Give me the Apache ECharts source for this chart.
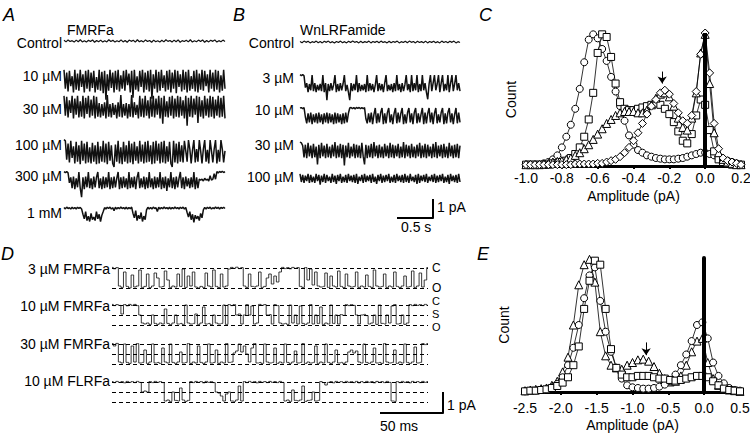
<!DOCTYPE html>
<html><head><meta charset="utf-8">
<script src="https://cdn.jsdelivr.net/npm/echarts/dist/echarts.min.js"></script>
<style>html,body{margin:0;padding:0;background:#fff}#main{width:750px;height:435px}</style>
</head><body><div id="main"></div>
<script>
// ---------------- DATA ----------------
// Panel C amplitude histograms (bins in pA, normalised counts)
const ampC = [-1.0,-0.975,-0.95,-0.925,-0.9,-0.875,-0.85,-0.825,-0.8,-0.775,-0.75,-0.725,-0.7,-0.675,-0.65,-0.625,-0.6,-0.575,-0.55,-0.525,-0.5,-0.475,-0.45,-0.425,-0.4,-0.375,-0.35,-0.325,-0.3,-0.275,-0.25,-0.225,-0.2,-0.175,-0.15,-0.125,-0.1,-0.075,-0.05,-0.025,0.0,0.025,0.05,0.075,0.1,0.125,0.15,0.175,0.2];
const cCircle = [0.01,0.01,0.01,0.01,0.02,0.03,0.05,0.08,0.14,0.22,0.31,0.43,0.58,0.78,0.95,0.99,0.96,0.88,0.79,0.67,0.56,0.45,0.34,0.23,0.16,0.12,0.10,0.08,0.07,0.06,0.055,0.05,0.05,0.05,0.055,0.06,0.07,0.08,0.09,0.10,0.10,0.09,0.08,0.06,0.05,0.04,0.03,0.02,0.01];
const cSquare = [0.01,0.01,0.01,0.01,0.01,0.01,0.02,0.02,0.03,0.04,0.06,0.09,0.14,0.22,0.35,0.55,0.85,0.99,0.97,0.82,0.62,0.48,0.43,0.42,0.42,0.43,0.44,0.45,0.46,0.47,0.46,0.43,0.39,0.33,0.26,0.19,0.17,0.24,0.38,0.50,0.46,0.27,0.11,0.05,0.03,0.02,0.01,0.01,0.01];
const cTriangle = [0.01,0.01,0.01,0.01,0.015,0.02,0.03,0.035,0.04,0.05,0.06,0.08,0.10,0.13,0.16,0.20,0.24,0.28,0.32,0.35,0.38,0.40,0.41,0.41,0.41,0.40,0.40,0.42,0.46,0.51,0.54,0.55,0.52,0.45,0.36,0.29,0.27,0.36,0.55,0.85,0.99,0.62,0.25,0.10,0.05,0.03,0.02,0.01,0.01];
const cDiamond = [0.01,0.01,0.01,0.01,0.01,0.01,0.01,0.01,0.01,0.01,0.01,0.015,0.015,0.015,0.015,0.015,0.02,0.02,0.03,0.04,0.05,0.07,0.10,0.14,0.19,0.25,0.32,0.39,0.45,0.50,0.55,0.57,0.54,0.47,0.40,0.34,0.32,0.38,0.56,0.84,1.0,0.70,0.32,0.13,0.06,0.04,0.03,0.02,0.01];

// Panel E amplitude histograms
const ampE = [-2.5,-2.425,-2.35,-2.275,-2.2,-2.125,-2.05,-1.975,-1.9,-1.825,-1.75,-1.675,-1.6,-1.525,-1.45,-1.375,-1.3,-1.225,-1.15,-1.075,-1.0,-0.925,-0.85,-0.775,-0.7,-0.625,-0.55,-0.475,-0.4,-0.325,-0.25,-0.175,-0.1,-0.025,0.05,0.125,0.2,0.275,0.35,0.425,0.5];
const eTriangle = [0.01,0.015,0.02,0.025,0.03,0.05,0.08,0.15,0.26,0.50,0.80,0.95,0.99,0.82,0.45,0.27,0.20,0.18,0.17,0.20,0.22,0.24,0.245,0.23,0.19,0.14,0.10,0.075,0.08,0.12,0.20,0.30,0.38,0.40,0.22,0.10,0.05,0.025,0.015,0.01,0.005];
const eCircle = [0.005,0.01,0.01,0.015,0.02,0.035,0.06,0.11,0.20,0.33,0.50,0.70,0.87,0.93,0.68,0.45,0.30,0.18,0.10,0.05,0.035,0.03,0.025,0.025,0.03,0.04,0.055,0.08,0.13,0.20,0.28,0.38,0.50,0.52,0.40,0.22,0.12,0.065,0.03,0.015,0.01];
const eSquare = [0.005,0.01,0.01,0.015,0.02,0.03,0.045,0.07,0.11,0.20,0.34,0.62,0.83,0.98,0.95,0.62,0.32,0.18,0.13,0.11,0.11,0.12,0.12,0.12,0.11,0.10,0.10,0.09,0.085,0.09,0.10,0.11,0.12,0.12,0.11,0.08,0.05,0.025,0.015,0.01,0.005];

// Panel A current traces (pA, closed = 0)
const labelsA = ['Control','10 µM','30 µM','100 µM','300 µM','1 mM'];
const traceA_control = [0.04,-0.05,0.06,-0.03,0.02,-0.06,0.05,-0.04,0.07,-0.05,0.02,-0.06,0.04,-0.03,0.06,-0.07,0.03,-0.04,0.05,-0.06,0.02,-0.05,0.07,-0.03,0.04,-0.06,0.01,-0.04,0.06,-0.05,0.03,-0.07,0.05,-0.02,0.04,-0.06,0.07,-0.04,0.02,-0.05,0.06,-0.03,0.03,-0.07,0.05,-0.04,0.01,-0.06,0.04,-0.05,0.07,-0.02,0.03,-0.06,0.05,-0.04,0.06,-0.07,0.02,-0.03,0.04,-0.05,0.07,-0.06,0.01,-0.04,0.05,-0.03,0.06,-0.07,0.03,-0.05,0.04,-0.02,0.06,-0.06,0.02,-0.04,0.05,-0.03];
const traceA_10 = [
 -0.05,-1.1,-0.2,-1.25,-0.1,-0.95,-0.4,-1.3,-0.05,-1.15,-0.25,-1.2,-0.05,-1.0,-0.3,-1.3,-0.1,-1.1,-0.05,-1.25,
 -0.2,-1.05,-0.1,-1.3,-0.45,-1.15,-0.05,-1.2,-0.15,-1.35,-0.1,-1.7,-0.3,-1.2,-0.05,-1.05,-0.2,-1.3,-0.1,-1.15,
 -0.05,-1.25,-0.35,-1.1,-0.1,-1.2,-0.05,-0.9,-0.25,-1.3,-0.1,-1.6,-0.05,-1.15,-0.4,-1.25,-0.1,-1.0,-0.05,-1.3,
 -0.2,-1.15,-0.1,-1.25,-0.05,-1.65,-0.3,-1.1,-0.05,-1.3,-0.15,-1.2,-0.05,-1.05,-0.35,-1.25,-0.1,-1.15,-0.05,-1.3,
 -0.2,-1.1,-0.05,-1.35,-0.1,-1.0,-0.3,-1.25,-0.05,-1.15,-0.15,-1.3,-0.05,-1.2,-0.4,-1.1,-0.1,-1.25,-0.05,-1.3,
 -0.25,-1.15,-0.05,-1.2,-0.1,-0.95,-0.3,-1.3,-0.05,-1.1,-0.2,-1.25,-0.05,-1.15,-0.1,-1.3,-0.35,-1.2,-0.05,-1.1];
const traceA_30 = [
 -0.05,-1.15,-0.1,-1.25,-0.3,-1.0,-0.05,-1.3,-0.2,-1.1,-0.05,-1.25,-0.35,-1.2,-0.05,-1.3,-0.15,-1.05,-0.05,-1.25,
 -0.25,-1.15,-0.05,-1.3,-0.1,-1.2,-0.45,-1.25,-0.5,-1.15,-0.4,-1.3,0,-1.2,-0.5,-1.25,-0.45,-1.1,-0.55,-1.3,
 -0.4,-1.2,0,-1.25,-0.5,-1.15,-0.45,-1.3,-0.5,-1.2,0,-1.25,-0.4,-1.1,-0.55,-1.3,-0.05,-1.2,-0.2,-1.25,
 -0.05,-1.15,-0.3,-1.3,-0.1,-1.2,-0.05,-1.25,-0.2,-1.1,-0.05,-1.3,-0.15,-1.6,-0.05,-1.2,-0.35,-1.25,-0.1,-1.15,
 -0.05,-1.3,-0.2,-1.2,-0.05,-1.25,-0.1,-1.15,-0.3,-1.3,-0.05,-1.7,-0.15,-1.2,-0.05,-1.25,-0.2,-1.1,-0.05,-1.55,
 -0.1,-1.2,-0.3,-1.3,-0.05,-1.15,-0.2,-1.25,-0.05,-1.2,-0.1,-1.3,-0.25,-1.15,-0.05,-1.25,-0.15,-1.2,-0.05,-1.3];
const traceA_100 = [
 0.02,-0.05,-1.1,-0.2,-1.25,-0.05,-1.0,-0.35,-1.3,-0.1,-1.2,-0.3,-1.35,-0.05,-1.15,-0.2,-1.3,-0.1,-1.25,-0.4,
 -1.3,-0.15,-1.2,-0.3,-1.35,-0.1,-1.3,-0.35,-1.2,-0.05,-1.25,-0.2,-1.35,-0.1,-1.15,-0.3,-1.3,-1.5,-0.25,-1.2,
 -0.05,-1.3,-0.4,-1.35,-0.1,-1.2,-0.3,-1.3,-0.05,-1.25,-0.2,-1.35,-0.1,-1.15,-0.35,-1.3,-0.05,-1.2,-0.25,-1.3,
 -0.1,-1.25,-0.05,-1.2,-0.3,-1.35,-0.1,-1.3,-0.05,-1.15,-0.2,-1.3,-0.1,-1.25,-0.05,-1.3,-0.35,-1.2,-0.1,-1.3,
 -1.5,-0.05,-1.25,-0.2,-1.3,-0.1,-1.2,-0.3,-1.25,-0.05,-0.6,-1.2,0,-0.5,-1.3,-0.55,0,-1.25,-0.5,-1.2,
 0,-0.6,-1.3,-0.5,0,-1.2,-0.55,-1.3,0,-0.6,-1.25,-0.5,0,-1.3,-0.55,-1.2,0,-0.5,-1.25,-0.6];
const traceA_300 = [
 0.02,-0.03,0.02,-0.05,-0.6,-0.3,-0.9,-0.25,-0.95,-0.35,-0.85,0,-0.9,-1.4,-0.3,-0.95,-0.25,-0.85,0,-0.9,
 -0.35,-0.95,-0.25,-0.85,-0.3,0,-0.9,-0.35,-0.95,-0.25,-0.9,-0.3,-0.85,0,-0.95,-0.3,-0.9,-0.25,-0.85,-0.35,
 0,-0.95,-0.3,-0.9,-0.25,-0.85,-0.35,-0.95,0,-0.9,-0.3,-0.85,-0.25,-0.95,-0.3,0,-0.9,-0.35,-0.85,-0.25,
 -0.95,-0.3,-0.9,0,-0.85,-0.35,-0.95,-0.25,-0.9,-0.3,-0.85,0,-0.95,-0.3,-0.9,-0.25,-1.05,-0.35,-0.85,0,
 -0.9,-0.3,-0.95,-0.25,-0.85,-0.35,0,-0.9,-0.3,-0.95,-0.25,-0.8,-0.35,-0.9,-0.3,-0.85,0,-0.95,-0.3,-0.9,
 -0.4,-0.45,-0.4,-0.5,-0.35,-0.45,-0.4,-0.5,-0.2,-0.45,-0.4,-0.1,-0.4,0.02,-0.05,0.03,-0.02,0.04,-0.03,0.02];
const traceA_1mM = [
 0.03,-0.05,0.05,-0.03,0.02,-0.06,0.04,-0.04,0.03,-0.05,0.04,-0.02,0.03,-0.05,-0.35,-0.6,-0.2,-0.7,-0.45,-0.75,
 -0.3,-0.65,-0.5,-0.7,-0.2,-0.6,-0.35,-0.75,-0.4,-0.2,0.02,-0.05,0.04,-0.03,0.05,-0.06,0.02,-0.15,0.04,-0.05,
 0.03,-0.04,0.05,-0.03,0.02,-0.05,0.04,-0.06,0.03,-0.04,0.05,-0.3,-0.55,-0.15,-0.7,-0.4,-0.6,-0.25,-0.75,-0.45,
 -0.65,-0.1,0.04,-0.05,0.03,-0.06,0.05,-0.03,0.02,-0.2,0.04,-0.05,0.03,-0.04,0.06,-0.03,0.02,-0.05,0.04,-0.06,
 0.03,-0.04,0.05,-0.03,0.02,-0.05,0.04,-0.03,0.05,-0.06,0.03,-0.25,-0.5,-0.2,-0.65,-0.35,-0.8,-0.4,-0.6,-0.45,
 -0.7,-0.3,-0.55,-0.1,0.03,-0.05,0.04,-0.03,0.05,-0.06,0.02,-0.04,0.05,-0.03,0.04,-0.05,0.03,-0.02,0.04,-0.03];

// Panel B current traces
const labelsB = ['Control','3 µM','10 µM','30 µM','100 µM'];
const traceB_control = [0.03,-0.04,0.05,-0.02,0.04,-0.05,0.02,-0.03,0.05,-0.04,0.03,-0.05,0.04,-0.02,0.05,-0.04,0.02,-0.05,0.03,-0.03,0.05,-0.04,0.02,-0.05,0.04,-0.03,0.05,-0.02,0.03,-0.05,0.04,-0.04,0.02,-0.03,0.05,-0.05,0.03,-0.02,0.04,-0.04,0.05,-0.03,0.02,-0.05,0.04,-0.04,0.03,-0.02,0.05,-0.05,0.02,-0.03,0.04,-0.04,0.05,-0.02,0.03,-0.05,0.04,-0.03,0.02,-0.04,0.05,-0.05,0.03,-0.02,0.04,-0.04,0.02,-0.05,0.05,-0.03,0.03,-0.04,0.04,-0.02,0.05,-0.05,0.02,-0.03];
const traceB_3 = [
 0.02,-0.03,0.02,-0.05,-0.7,-0.45,-0.95,-0.5,-0.85,0,-0.9,-0.45,-0.95,-0.55,-0.85,-0.5,-0.9,0,-0.95,-0.45,
 -1.4,-0.5,-0.9,-0.45,-0.85,-0.55,0,-0.95,-0.5,-0.9,-0.45,-0.85,-0.5,0,-0.9,-0.55,-0.95,-1.4,-0.45,-0.9,
 -0.5,-0.85,0,-0.95,-0.45,-0.9,-0.55,-0.85,-0.5,-0.95,0,-0.9,-0.45,-0.85,-0.5,-0.95,-0.55,0,-0.9,-0.45,
 -0.85,-0.5,-0.95,-0.45,0,-0.9,-0.55,-0.85,-0.5,-0.95,-0.45,-0.9,0,-0.85,-0.5,-0.95,-0.45,-0.9,-0.55,0,
 -0.85,-0.5,-0.95,0,-0.9,-0.45,-0.85,0,-0.95,-0.5,-0.9,0,-0.85,-0.45,-0.95,-1.35,-0.5,0,-0.9,-0.45,
 0,-0.85,-0.5,0,-0.95,-0.45,0,-0.9,-0.5,-0.85,0,-0.95,-0.45,0,-0.9,-0.5,0,-0.85,-0.45,-0.9];
const traceB_10 = [
 0,0.02,-0.03,0.02,-0.5,-0.85,-0.3,-0.8,-0.25,-0.9,-0.35,-0.8,-0.3,-0.85,-0.25,-0.8,-0.35,-0.9,-0.3,-0.8,
 -0.25,-0.85,-0.3,-0.8,-0.35,-0.9,-0.25,-0.85,-0.3,-0.8,-0.35,-0.9,-0.3,-0.85,-0.25,-0.8,-0.3,0,0.03,-0.04,
 0.02,-0.05,0.03,-0.02,0.03,-0.04,0.02,-0.03,0.02,-0.6,-0.85,-0.3,-0.8,-0.25,-0.9,-0.35,0,-0.85,-0.3,-0.8,
 -0.25,0,-0.9,-0.3,-0.85,-0.25,0,-0.8,-0.35,-0.9,-0.3,0,-0.85,-0.25,-0.8,-0.3,0,-0.9,-0.35,-0.85,
 -0.25,0,-0.8,-0.3,-0.9,-0.25,0,-0.85,-0.3,-0.8,-0.35,0,-0.9,-0.25,-0.85,-0.3,0,-0.8,-0.25,-0.9,
 -0.3,0,-0.85,-0.35,-0.8,-0.25,0,-0.9,-0.3,-0.85,-0.25,0,-0.8,-0.3,-0.9,-0.35,0,-0.85,-0.25,-0.8];
const traceB_30 = [
 0,-0.05,-0.2,-0.85,-0.15,-0.9,-0.05,-0.8,-0.2,-0.9,-0.1,-0.85,-0.25,-1.25,-0.15,-0.9,-0.05,-0.8,-0.2,-0.9,
 -0.1,-0.85,-0.25,-0.9,-0.15,-0.8,0,-0.9,-0.2,-0.85,-0.1,-0.9,-0.15,-1.3,-0.2,-0.85,-0.05,-0.9,-0.25,-0.8,
 -0.1,-0.9,-0.15,-0.85,-0.2,-0.9,-0.05,-0.8,-1.25,-0.15,-0.9,-0.2,-0.85,-0.1,-0.9,0,-0.8,-0.2,-0.9,-0.15,
 -0.85,-0.25,-0.9,-0.1,-0.8,-0.2,-0.9,-0.05,-0.85,-0.15,-0.9,-0.2,-0.8,-0.1,-0.9,-0.25,-0.85,0,-0.9,-0.15,
 -0.8,-0.2,-0.9,-0.1,-0.85,-0.25,-0.9,-0.15,-0.8,-0.05,-0.9,-0.2,-0.85,-0.1,-0.9,-0.15,-0.8,-0.25,-0.9,-0.1,
 -0.85,0,-0.9,-0.2,-0.8,-0.15,-0.9,-0.1,-0.85,-0.25,-0.9,-0.05,-0.8,-0.2,-0.9,-0.15,-0.85,-0.1,-0.9,-0.2];
const traceB_100 = [
 -0.05,-0.5,-0.1,-0.55,-0.15,-0.45,-0.05,-0.55,-0.1,-0.5,-0.2,-0.55,-0.05,-0.45,-0.1,-0.65,-0.15,-0.5,-0.05,-0.55,
 -0.1,-0.45,-0.2,-0.55,-0.05,-0.5,-0.15,-0.6,-0.1,-0.45,-0.05,-0.55,-0.2,-0.5,-0.1,-0.55,-0.05,-0.45,-0.15,-0.5,
 -0.1,-0.55,-0.05,-0.6,-0.2,-0.45,-0.1,-0.55,-0.05,-0.5,-0.15,-0.45,-0.1,-0.55,-0.05,-0.5,-0.2,-0.6,-0.1,-0.45,
 -0.05,-0.55,-0.15,-0.5,-0.1,-0.45,-0.05,-0.55,-0.2,-0.5,-0.1,-0.55,-0.05,-0.45,-0.15,-0.5,-0.1,-0.55,-0.05,-0.5,
 -0.15,-0.55,-0.05,-0.45,-0.2,-0.5,-0.1,-0.6,-0.05,-0.55,-0.15,-0.45,-0.1,-0.5,-0.05,-0.55,-0.2,-0.45,-0.1,-0.5,
 -0.05,-0.55,-0.15,-0.5,-0.1,-0.45,-0.05,-0.55,-0.2,-0.5,-0.1,-0.6,-0.05,-0.45,-0.15,-0.5,-0.1,-0.55,-0.05,-0.5];

// Panel D current traces (C = 0, S = -0.5, O = -1.0 pA)
const labelsD = ['3 µM FMRFa','10 µM FMRFa','30 µM FMRFa','10 µM FLRFa'];
const traceD_3FMRFa = [0.03,-0.04,0.02,-0.9,-0.97,-0.2,-0.92,-1.0,-0.35,-0.95,-0.9,-0.1,-0.97,-0.92,-0.3,-0.98,-0.9,-0.25,-0.5,-0.95,-0.92,-0.15,-0.6,-0.97,-0.9,-0.95,-0.3,-0.92,-0.05,-0.97,-0.4,-0.9,-0.2,-0.95,-1.0,-0.92,-0.97,-0.25,-0.9,-0.95,-0.1,-0.92,-0.98,-0.3,-0.95,-0.9,-0.05,0.03,-0.02,0.04,-0.03,0.02,-0.9,-0.97,-0.3,-0.92,-0.95,-0.9,-0.2,-0.97,-0.92,-0.5,-0.3,-0.8,-0.4,-0.7,-0.2,0.03,-0.03,0.02,-0.04,0.03,-0.02,0.02,-0.92,-0.97,0.02,-0.6,-0.05,-0.85,-0.2,-0.9,-0.95,-0.92,-0.25,-0.97,-0.4,-0.9,-0.95,-0.15,-0.92,-0.98,-0.3,-0.9,-0.95,-0.92,-0.2,-0.97,-0.9,-0.95,-0.35,-0.92,-0.97,-0.1,-0.9,-0.95,-0.92,-0.3,-0.97,-0.9,-0.95,-0.2,-0.92,-0.98,-0.9,-0.4,-0.95,-0.92,-0.15,-0.97,-0.9,-0.25,-0.95,-0.6,0.02];
const traceD_10FMRFa = [0.03,-0.03,0.02,-0.02,-0.45,0.02,-0.04,0.03,-0.02,0.03,-0.03,-0.5,-0.9,-0.95,-0.9,-0.97,-0.5,-0.92,-0.97,-0.9,-0.95,-0.2,-0.92,-0.98,-0.9,-0.5,-0.95,-0.92,-0.97,0,-0.9,-0.95,-0.92,-0.45,-0.97,-0.9,-0.1,-0.95,-0.92,-0.98,-0.5,-0.9,-0.95,-0.92,0,-0.97,0.02,-0.03,0.02,-0.5,-0.45,-0.95,-0.5,0.02,-0.5,-0.05,-0.95,-0.9,0.03,-0.02,0.02,-0.5,-0.48,-0.95,0.02,-0.03,-0.9,-0.95,-0.92,-0.97,0,-0.9,-0.5,-0.95,-0.05,-0.92,-0.97,-0.9,0.02,-0.95,-0.5,-0.92,-0.1,-0.97,-0.9,-0.95,0,-0.92,-0.5,-0.95,-0.48,-0.52,0.02,-0.03,0.02,-0.02,-0.5,-0.95,-0.5,-0.47,-0.53,-0.95,-0.9,-0.5,-0.97,0,-0.92,-0.95,-0.5,-0.9,-0.05,0.02,-0.95,-0.92,-0.5,-0.97,-0.9,0.02,-0.03,0.03,-0.02,0.02,-0.03,0.03,-0.02];
const traceD_30FMRFa = [0.02,-0.1,0.03,-0.9,-0.95,0,-0.92,-0.97,-0.1,-0.9,0.02,-0.95,-0.92,-0.3,-0.97,-0.9,0,-0.95,-0.92,-0.97,-0.2,-0.9,-0.95,0,-0.92,-0.97,-0.9,-0.4,-0.95,-0.92,0.02,-0.97,-0.9,-0.95,-0.1,-0.92,-0.97,-0.9,0,-0.95,-0.92,-0.3,-0.97,-0.9,-0.95,0.02,-0.92,-0.9,-0.45,-0.35,0,-0.4,-0.1,-0.5,-0.9,-0.2,0.02,-0.95,-0.92,-0.97,0,-0.9,-0.95,-0.92,-0.2,-0.97,-0.9,-0.95,0,-0.92,-0.97,-0.9,-0.35,-0.95,-0.92,0.02,-0.97,-0.9,-0.95,-0.92,-0.1,-0.97,-0.9,-0.95,0,-0.92,-0.97,-0.9,-0.3,-0.95,-0.92,-0.97,-0.9,-0.4,-0.3,-0.45,-0.35,-0.9,-0.95,0,-0.92,-0.97,-0.9,-0.2,-0.95,-0.92,-0.97,0.02,-0.9,-0.95,-0.92,-0.3,-0.97,-0.9,-0.95,0,-0.92,-0.97,-0.9,-0.15,-0.95,-0.92,0.02,-0.03,0.02];
const traceD_10FLRFa = [0.02,-0.03,0.03,-0.02,0.02,-0.04,0.03,-0.02,0.02,-0.03,0.03,-0.02,-0.5,-0.45,-0.5,0.02,-0.03,0.03,-0.02,0.02,-0.03,-0.95,-0.9,-0.97,-0.5,-0.92,-0.95,-0.3,-0.9,-0.97,-0.92,0.02,-0.03,0.03,-0.02,0.02,-0.04,0.03,-0.02,0.02,-0.03,-0.5,-0.55,-0.7,-0.95,-0.6,-0.5,-0.95,-0.97,-0.9,-0.2,-0.95,0.02,-0.03,0.03,-0.02,0.02,-0.04,0.03,-0.02,0.02,-0.03,0.03,-0.02,0.02,-0.03,0.03,-0.02,-0.95,-0.9,-0.97,-0.4,-0.92,-0.95,-0.9,-0.2,-0.97,-0.92,-0.9,-0.5,-0.95,-0.92,0.02,-0.03,-0.15,-0.02,0.02,-0.04,0.03,-0.02,0.02,-0.03,0.03,-0.02,0.02,-0.03,0.03,-0.04,0.02,-0.03,0.03,-0.02,0.02,-0.04,0.03,-0.02,0.02,-0.03,0.03,-0.02,-0.95,-0.97,0.02,-0.03,0.03,-0.02,0.02,-0.04,0.03,-0.02,0.02,-0.03,0.03,-0.02,0.02];

// ---------------- LAYOUT ----------------
const FONT = '"Liberation Sans", Arial, Helvetica, sans-serif';
const FS = 14;
const grids = [], xAxes = [], yAxes = [], series = [], graphic = [];

function text(t, x, y, opts) {
  opts = opts || {};
  graphic.push({type:'text', silent:true, style:{text:t, x:x, y:y, fill:'#000',
    font:(opts.italic?'italic ':'') + (opts.size||FS) + 'px ' + FONT,
    align:opts.align||'left', textAlign:opts.align||'left',
    verticalAlign:opts.va||'middle', textVerticalAlign:opts.va||'middle'}});
}
function line(x1,y1,x2,y2,w){
  graphic.push({type:'line', silent:true, shape:{x1,y1,x2,y2}, style:{stroke:'#000', lineWidth:w||2}});
}
function addTrace(data, left, width, zeroY, ppa, ymin, ymax, color, lw, levels, step) {
  const i = grids.length;
  grids.push({left:left, width:width, top:zeroY - ymax*ppa, height:(ymax-ymin)*ppa, outerBoundsMode:'none', containLabel:false});
  xAxes.push({type:'category', gridIndex:i, show:false, boundaryGap:false});
  yAxes.push({type:'value', gridIndex:i, show:false, min:ymin, max:ymax});
  const s = {type:'line', xAxisIndex:i, yAxisIndex:i, data:data, symbol:'none', showSymbol:false,
    silent:true, lineStyle:{color:color, width:lw, join:'bevel'}, z:3};
  if (step) s.step = 'middle';
  if (levels) {
    s.markLine = {symbol:'none', silent:true, animation:false,
      lineStyle:{type:[4,3], color:'#000', width:1}, label:{show:false},
      data: levels.map(l => ({yAxis:l}))};
  }
  series.push(s);
}

// Panel A
const tracesA = [traceA_control, traceA_10, traceA_30, traceA_100, traceA_300, traceA_1mM];
const zeroA = [41, 69, 95, 140, 172, 208];
const labYA = [42.5, 76, 108.5, 144.5, 175.5, 212.5];
tracesA.forEach((d,k) => { addTrace(d, 64, 161, zeroA[k], 18, -1.9, 0.3, '#111', k===0?1.2:1.5); text(labelsA[k], 62, labYA[k], {align:'right'}); });
text('A', 3, 6, {italic:true, size:18, va:'top'});
text('FMRFa', 67, 30);

// Panel B
const tracesB = [traceB_control, traceB_3, traceB_10, traceB_30, traceB_100];
const zeroB = [42, 75, 108, 142, 173];
const labYB = [42.5, 78, 110, 144.5, 176.5];
tracesB.forEach((d,k) => { addTrace(d, 300, 160, zeroB[k], 18, -1.9, 0.3, '#111', k===0?1.2:1.5); text(labelsB[k], 294, labYB[k], {align:'right'}); });
text('B', 233, 6, {italic:true, size:18, va:'top'});
text('WnLRFamide', 300, 30);
line(397,218,433.5,218); line(433,218.5,433,199);
text('1 pA', 437, 207); text('0.5 s', 401, 227);

// Panel D
const tracesD = [traceD_3FMRFa, traceD_10FMRFa, traceD_30FMRFa, traceD_10FLRFa];
const zeroD = [268, 305, 344, 382];
const labYD = [269, 306, 343.5, 381];
const levelsD = [[0,-1.0], [0,-0.5,-1.0], [0,-0.5,-1.0], [0,-0.5,-1.0]];
tracesD.forEach((d,k) => { addTrace(d, 112, 316, zeroD[k], 20, -1.4, 0.3, '#222', 0.9, levelsD[k], true); text(labelsD[k], 110, labYD[k], {align:'right'}); });
text('C', 432, 268, {size:12}); text('O', 432, 287.5, {size:12});
text('C', 432, 301.3, {size:11}); text('S', 432, 314, {size:11}); text('O', 432, 326.7, {size:11});
text('D', 1, 245, {italic:true, size:18, va:'top'});
line(380,413,443.5,413); line(443,413.5,443,392);
text('1 pA', 447, 405); text('50 ms', 380, 426);

// Histogram panels
function histGrid(left, top, width, height, xmin, xmax, interval, ymax, labelMargin, nameGapX, nameGapY) {
  const i = grids.length;
  grids.push({left:left, top:top, width:width, height:height, outerBoundsMode:'none', containLabel:false});
  xAxes.push({type:'value', gridIndex:i, min:xmin, max:xmax, interval:interval,
    axisLine:{show:true, onZero:false, lineStyle:{color:'#000', width:3}},
    axisTick:{show:true, length:3, lineStyle:{color:'#000', width:2}},
    axisLabel:{color:'#000', fontSize:FS, fontFamily:FONT, margin:labelMargin, formatter:v => v.toFixed(1)},
    splitLine:{show:false},
    name:'Amplitude (pA)', nameLocation:'middle', nameGap:nameGapX,
    nameTextStyle:{color:'#000', fontSize:FS, fontFamily:FONT}});
  yAxes.push({type:'value', gridIndex:i, min:0, max:ymax,
    axisLine:{show:true, lineStyle:{color:'#000', width:4}},
    axisTick:{show:false}, axisLabel:{show:false}, splitLine:{show:false},
    name:'Count', nameLocation:'middle', nameRotate:90, nameGap:nameGapY,
    nameTextStyle:{color:'#000', fontSize:FS, fontFamily:FONT}});
  return i;
}
function hist(gi, amps, counts, symbol, size, extra) {
  const s = {type:'line', xAxisIndex:gi, yAxisIndex:gi, data:amps.map((a,k)=>[a,counts[k]]),
    symbol:symbol, symbolSize:size, showSymbol:true, showAllSymbol:true, silent:true,
    lineStyle:{color:'#000', width:0.8},
    itemStyle:{color:'#fff', borderColor:'#000', borderWidth:1}, z:3};
  Object.assign(s, extra||{});
  series.push(s);
}
const gC = histGrid(526, 33, 215, 133, -1.0, 0.2, 0.2, 1.0, 5, 23, 8);
hist(gC, ampC, cCircle, 'circle', 7);
hist(gC, ampC, cSquare, 'rect', 7);
hist(gC, ampC, cTriangle, 'triangle', 8);
hist(gC, ampC, cDiamond, 'diamond', 8, {markLine:{silent:true, animation:false, symbol:'none', label:{show:false},
  data:[[{coord:[0,0], lineStyle:{width:4, color:'#000', type:'solid'}},{coord:[0,1.0]}]]}});
series.push({type:'line', xAxisIndex:gC, yAxisIndex:gC, data:[], silent:true,
  markLine:{silent:true, animation:false, symbol:['none','arrow'], symbolSize:7, label:{show:false},
    lineStyle:{color:'#000', width:1, type:'solid'}, data:[[{coord:[-0.24,0.71]},{coord:[-0.24,0.62]}]]}});
text('C', 479, 6, {italic:true, size:18, va:'top'});

const gE = histGrid(525, 258, 215, 134, -2.5, 0.5, 0.5, 1.0, 9, 26, 14);
hist(gE, ampE, eTriangle, 'triangle', 8);
hist(gE, ampE, eCircle, 'circle', 7);
hist(gE, ampE, eSquare, 'rect', 7, {markLine:{silent:true, animation:false, symbol:'none', label:{show:false},
  data:[[{coord:[0,0], lineStyle:{width:4, color:'#000', type:'solid'}},{coord:[0,0.955]}]]}});
series.push({type:'line', xAxisIndex:gE, yAxisIndex:gE, data:[], silent:true,
  markLine:{silent:true, animation:false, symbol:['none','arrow'], symbolSize:7, label:{show:false},
    lineStyle:{color:'#000', width:1, type:'solid'}, data:[[{coord:[-0.81,0.37]},{coord:[-0.81,0.275]}]]}});
text('E', 477, 245, {italic:true, size:18, va:'top'});

const chart = echarts.init(document.getElementById('main'), null, {renderer:'svg', width:750, height:435});
chart.setOption({
  animation:false, backgroundColor:'#fff',
  textStyle:{fontFamily:FONT},
  grid:grids, xAxis:xAxes, yAxis:yAxes, series:series, graphic:graphic
});
</script></body></html>
